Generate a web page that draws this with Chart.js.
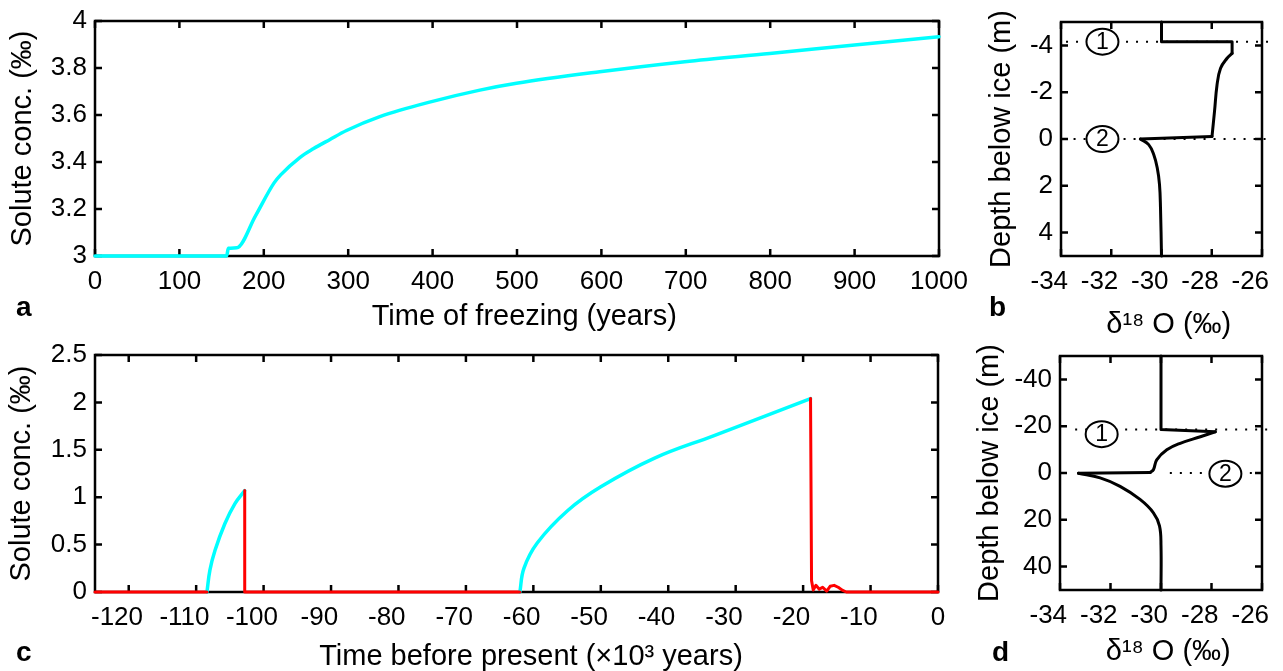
<!DOCTYPE html>
<html>
<head>
<meta charset="utf-8">
<script src="https://cdn.jsdelivr.net/npm/chart.js@4.4.1/dist/chart.umd.min.js"></script>
<style>
  html, body { margin: 0; padding: 0; background: #fff; overflow: hidden; }
  body { width: 1283px; height: 671px; position: relative; }
  canvas { position: absolute; }
  .tag { position: absolute; font: bold 28px "Liberation Sans", Arial, sans-serif; line-height: 28px; color: #000; }
</style>
</head>
<body>
<canvas id="ca" width="975" height="340" style="left:0;top:0"></canvas>
<canvas id="cb" width="308" height="340" style="left:975px;top:0"></canvas>
<canvas id="cc" width="960" height="340" style="left:0;top:335px"></canvas>
<canvas id="cd" width="308" height="340" style="left:975px;top:335px"></canvas>
<div class="tag" style="left:16px;top:293px">a</div>
<div class="tag" style="left:989px;top:293px">b</div>
<div class="tag" style="left:16px;top:638px">c</div>
<div class="tag" style="left:992px;top:638px">d</div>
<script>
Chart.defaults.color = '#000';
Chart.defaults.font.family = '"Liberation Sans", Arial, sans-serif';

const CYAN = '#00ffff';
const RED = '#ff0000';

// a: solute concentration vs time of freezing
const freezeYears = [0, 156, 158, 168, 190, 212, 220, 243, 258.6, 278, 298, 337.5, 398.8, 456, 499.4, 598, 698.8, 799.5, 900, 1000];
const freezeConc = [3, 3, 3.033, 3.035, 3.17, 3.31, 3.345, 3.42, 3.456, 3.495, 3.534, 3.593, 3.657, 3.706, 3.735, 3.784, 3.827, 3.862, 3.898, 3.933];
const freezeYearTicks = [0, 100, 200, 300, 400, 500, 600, 700, 800, 900, 1000];
const freezeConcTicks = [3, 3.2, 3.4, 3.6, 3.8, 4];

// b: d18O profile, short run (straight pieces and curved pieces)
const shallowTopX = [-30, -30, -27.19, -27.19];
const shallowTopDepth = [-5, -4.16, -4.16, -3.66];
const shallowBendX = [-27.19, -27.39, -27.65, -27.79, -27.89, -27.99];
const shallowBendDepth = [-3.66, -3.45, -3.02, -2.31, -1.18, -0.11];
const shallowStepX = [-27.99, -30.84];
const shallowStepDepth = [-0.11, 0];
const shallowTailX = [-30.84, -30.51, -30.31, -30.17, -30.08, -30.04, -30];
const shallowTailDepth = [0, 0.24, 0.66, 1.23, 1.94, 2.93, 5];
const shallowDepthTicks = [-4, -2, 0, 2, 4];
const shallowMarkDepth = [-4.16, 0];
const shallowMarkFrom = [-33.8, -33.5];
const shallowMarkTo = [-25.7, -25.7];
const shallowLabelX = [-32.35, -32.35];
const shallowLabelDepth = [-4.16, 0];

// c: solute concentration vs time before present (x10^3 years)
const bpRedA = [-125, -108.4];
const concRedA = [0, 0];
const bpCyanA = [-108.4, -107.96, -107.2, -105.75, -104.27, -102.8];
const concCyanA = [0, 0.23, 0.44, 0.72, 0.93, 1.07];
const bpRedB = [-102.8, -102.8, -62];
const concRedB = [1.07, 0, 0];
const bpCyanB = [-62, -61.4, -59.4, -54.9, -50, -42.1, -33.2, -25.85, -18.9];
const concCyanB = [0, 0.25, 0.52, 0.86, 1.11, 1.41, 1.65, 1.85, 2.04];
const bpRedC = [-18.9, -18.75, -18.5, -18.1, -17.6, -17.1, -16.5, -16.0, -15.4, -14.8, -14.2, -13.6, 0];
const concRedC = [2.04, 0.12, 0.02, 0.07, 0.03, 0.05, 0.01, 0.06, 0.07, 0.05, 0.02, 0, 0];
const bpTicks = [-120, -110, -100, -90, -80, -70, -60, -50, -40, -30, -20, -10, 0];
const concTicks = [0, 0.5, 1, 1.5, 2, 2.5];

// d: d18O profile, long run
const deepTopX = [-30, -30, -27.85];
const deepTopDepth = [-50, -18.6, -17.6];
const deepBendX = [-27.85, -28.44, -29.24, -29.77, -30.17, -30.3, -30.43];
const deepBendDepth = [-17.6, -15.5, -12.7, -9.9, -5.6, -1.4, -0.2];
const deepStepX = [-30.43, -33.27];
const deepStepDepth = [-0.2, 0.1];
const deepTailX = [-33.27, -32.41, -31.62, -30.83, -30.3, -30.06, -30, -30];
const deepTailDepth = [0.1, 2.1, 5.7, 11.3, 17, 22.6, 31, 50];
const deepDepthTicks = [-40, -20, 0, 20, 40];
const deepMarkDepth = [-18.6, 0];
const deepMarkFrom = [-33.4, -29.65];
const deepMarkTo = [-25.7, -25.7];
const deepLabelX = [-32.35, -27.45];
const deepLabelDepth = [-16.6, 0.3];

const d18OTicks = [-34, -32, -30, -28, -26];
const markLabels = ['1', '2'];

const NEG_PAD = '\u2002\u2009\u2009';

function line(xs, ys, color, width, opts) {
  opts = opts || {};
  return {
    data: xs.map((x, i) => ({ x: x, y: ys[i] })),
    showLine: true, borderColor: color, borderWidth: width,
    borderDash: opts.dash || [], pointRadius: 0,
    tension: opts.smooth ? 0.4 : 0,
    cubicInterpolationMode: opts.mono ? 'monotone' : 'default',
    borderJoinStyle: 'round', borderCapStyle: opts.dash ? 'butt' : 'round',
    clip: opts.dash ? 12 : 6
  };
}

function marks(depths, from, to) {
  return depths.map((d, i) => line([from[i], to[i]], [d, d], '#000', 2, { dash: [2, 8] }));
}

function axisX(min, max, vals, title, h, pad) {
  return {
    type: 'linear', min: min, max: max,
    grid: { display: false, drawTicks: false }, border: { display: false },
    afterBuildTicks: s => { s.ticks = vals.map(v => ({ value: v })); },
    afterFit: s => { s.height = h; s.paddingLeft = 0; s.paddingRight = 0; },
    ticks: { autoSkip: false, maxRotation: 0, minRotation: 0, padding: 10, font: { size: 26 },
      callback: v => v < 0 ? v + NEG_PAD : String(v) },
    title: { display: true, text: title, font: { size: 29, lineHeight: 1 }, padding: { top: 0, bottom: pad } }
  };
}

function axisY(min, max, vals, title, w, pad, reverse) {
  return {
    type: 'linear', min: min, max: max, reverse: !!reverse,
    grid: { display: false, drawTicks: false }, border: { display: false },
    afterBuildTicks: s => { s.ticks = vals.map(v => ({ value: v })); },
    afterFit: s => { s.width = w; s.paddingTop = 0; s.paddingBottom = 0; },
    ticks: { autoSkip: false, padding: 8, font: { size: 26 }, callback: v => String(v) },
    title: { display: true, text: title, font: { size: 29, lineHeight: 1 }, padding: { top: pad, bottom: 0 } }
  };
}

const frame = {
  id: 'frame',
  beforeDatasetsDraw(chart) {
    const { ctx, chartArea: a, scales: { x, y } } = chart;
    ctx.save();
    ctx.strokeStyle = '#000';
    ctx.lineWidth = 2.5;
    ctx.strokeRect(a.left, a.top, a.right - a.left, a.bottom - a.top);
    ctx.beginPath();
    x.ticks.forEach(t => {
      const px = x.getPixelForValue(t.value);
      ctx.moveTo(px, a.bottom); ctx.lineTo(px, a.bottom - 7);
      ctx.moveTo(px, a.top); ctx.lineTo(px, a.top + 7);
    });
    y.ticks.forEach(t => {
      const py = y.getPixelForValue(t.value);
      ctx.moveTo(a.left, py); ctx.lineTo(a.left + 7, py);
      ctx.moveTo(a.right, py); ctx.lineTo(a.right - 7, py);
    });
    ctx.stroke();
    ctx.restore();
  }
};

const circled = {
  id: 'circled',
  afterDatasetsDraw(chart, args, opts) {
    const { ctx, scales: { x, y } } = chart;
    ctx.save();
    opts.xs.forEach((v, i) => {
      const px = x.getPixelForValue(v);
      const py = y.getPixelForValue(opts.ys[i]);
      ctx.beginPath();
      ctx.ellipse(px, py, 16, 13, 0, 0, Math.PI * 2);
      ctx.fillStyle = '#fff';
      ctx.fill();
      ctx.lineWidth = 2;
      ctx.strokeStyle = '#000';
      ctx.stroke();
      ctx.fillStyle = '#000';
      ctx.font = '23px "Liberation Sans", Arial, sans-serif';
      ctx.textAlign = 'center';
      ctx.textBaseline = 'middle';
      ctx.fillText(markLabels[i], px, py + 1);
    });
    ctx.restore();
  }
};

function makeChart(id, datasets, xs, ys, pad, labels) {
  const plugins = [frame];
  if (labels) plugins.push(circled);
  return new Chart(document.getElementById(id), {
    type: 'scatter',
    data: { datasets: datasets },
    options: {
      responsive: false, animation: false,
      layout: { padding: pad },
      plugins: { legend: { display: false }, tooltip: { enabled: false }, circled: labels || false },
      scales: { x: xs, y: ys }
    },
    plugins: plugins
  });
}

makeChart('ca',
  [line(freezeYears, freezeConc, CYAN, 3.5, { smooth: true, mono: true })],
  axisX(0, 1000, freezeYearTicks, '\u2002Time of freezing (years)', 84, 8.5),
  axisY(3, 4, freezeConcTicks, 'Solute conc. (\u2030)', 95, 8.8),
  { top: 21, right: 36, left: 0, bottom: 0 });

makeChart('cb',
  [line(shallowTopX, shallowTopDepth, '#000', 3),
   line(shallowBendX, shallowBendDepth, '#000', 3, { smooth: true }),
   line(shallowStepX, shallowStepDepth, '#000', 3),
   line(shallowTailX, shallowTailDepth, '#000', 3, { smooth: true })]
    .concat(marks(shallowMarkDepth, shallowMarkFrom, shallowMarkTo)),
  axisX(-34, -26, d18OTicks, '\u2002\u03b4\u00b9\u2078 O (\u2030)', 84, 0.5),
  axisY(-5, 5, shallowDepthTicks, 'Depth below ice (m)', 86, 12.2, true),
  { top: 22, right: 21, left: 0, bottom: 0 },
  { xs: shallowLabelX, ys: shallowLabelDepth });

makeChart('cc',
  [line(bpRedC, concRedC, RED, 3), line(bpRedB, concRedB, RED, 3), line(bpRedA, concRedA, RED, 3),
   line(bpCyanB, concCyanB, CYAN, 3.5, { smooth: true }),
   line(bpCyanA, concCyanA, CYAN, 3.5, { smooth: true })],
  axisX(-125, 0, bpTicks, '\u2003Time before present (\u00d710\u00b3 years)', 83, 3.5),
  axisY(0, 2.5, concTicks, 'Solute conc. (\u2030)', 95, 7.2),
  { top: 20, right: 22, left: 0, bottom: 0 });

makeChart('cd',
  [line(deepTopX, deepTopDepth, '#000', 3),
   line(deepBendX, deepBendDepth, '#000', 3, { smooth: true }),
   line(deepStepX, deepStepDepth, '#000', 3),
   line(deepTailX, deepTailDepth, '#000', 3, { smooth: true })]
    .concat(marks(deepMarkDepth, deepMarkFrom, deepMarkTo)),
  axisX(-34, -26, d18OTicks, '\u2002\u03b4\u00b9\u2078 O (\u2030)', 85, 8.5),
  axisY(-50, 50, deepDepthTicks, 'Depth below ice (m)', 85, 0.5, true),
  { top: 21, right: 21, left: 0, bottom: 0 },
  { xs: deepLabelX, ys: deepLabelDepth });
</script>
</body>
</html>
